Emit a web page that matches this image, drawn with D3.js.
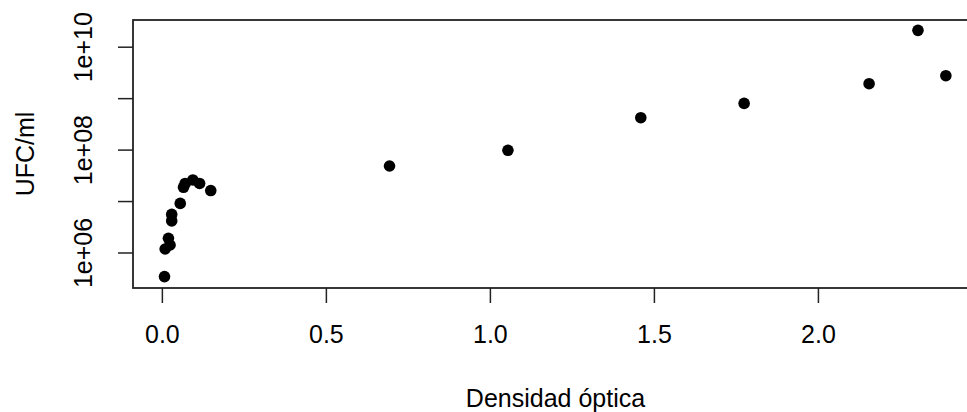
<!DOCTYPE html>
<html>
<head>
<meta charset="utf-8">
<script src="https://cdn.jsdelivr.net/npm/d3@7"></script>
<style>
  html, body { margin: 0; padding: 0; background: #fff; overflow: hidden; }
  svg { display: block; }
  text { font-family: "Liberation Sans", Arial, sans-serif; fill: #000; }
</style>
</head>
<body>
<svg id="chart" width="967" height="412"></svg>
<script>
// Data: optical density (x) vs UFC/ml (y)
const densidad = [0.008, 0.010, 0.020, 0.025, 0.030, 0.030, 0.056, 0.066, 0.071, 0.0945, 0.115, 0.149,
                  0.694, 1.055, 1.460, 1.775, 2.156, 2.305, 2.390];
const ufc = [3.4e5, 1.17e6, 1.89e6, 1.4e6, 5.5e6, 4.1e6, 9.0e6, 1.85e7, 2.2e7, 2.57e7, 2.2e7, 1.6e7,
             4.8e7, 9.7e7, 4.17e8, 7.9e8, 1.91e9, 2.08e10, 2.73e9];
const xTicks = [0.0, 0.5, 1.0, 1.5, 2.0];
const xTickLabels = ["0.0", "0.5", "1.0", "1.5", "2.0"];
const yTicks = [1e6, 1e7, 1e8, 1e9, 1e10];
const yTickLabels = ["1e+06", "", "1e+08", "", "1e+10"];
const xTitle = "Densidad óptica";
const yTitle = "UFC/ml";

const svg = d3.select("#chart");
const pLeft = 133, pRight = 978, pTop = 20, pBottom = 288;

const x = d3.scaleLinear().domain([-0.088, 2.488]).range([pLeft, pRight]);
const y = d3.scaleLog().domain([Math.pow(10, 5.31), Math.pow(10, 10.519)]).range([pBottom, pTop]);

const fontSize = 25;

// X axis
const xAxis = d3.axisBottom(x)
  .tickValues(xTicks)
  .tickFormat((d, i) => xTickLabels[i])
  .tickSizeInner(15).tickSizeOuter(0).tickPadding(10);
const gx = svg.append("g").attr("transform", `translate(0,${pBottom})`).call(xAxis);
gx.select(".domain").remove();
gx.selectAll(".tick line").attr("stroke", "#222").attr("stroke-width", 1.5);
gx.selectAll(".tick text").attr("font-size", fontSize).attr("font-family", "Liberation Sans, Arial, sans-serif")
  .attr("fill", "#000").attr("dy", null).attr("y", 55);

// Y axis
const yAxis = d3.axisLeft(y)
  .tickValues(yTicks)
  .tickFormat((d, i) => yTickLabels[i])
  .tickSizeInner(15).tickSizeOuter(0);
const gy = svg.append("g").attr("transform", `translate(${pLeft},0)`).call(yAxis);
gy.select(".domain").remove();
gy.selectAll(".tick line").attr("stroke", "#222").attr("stroke-width", 1.5);
gy.selectAll(".tick text")
  .attr("font-size", fontSize).attr("font-family", "Liberation Sans, Arial, sans-serif")
  .attr("fill", "#000")
  .attr("x", null).attr("dy", null)
  .attr("text-anchor", "middle")
  .attr("transform", "translate(-41,0) rotate(-90)");

// Box
svg.append("rect")
  .attr("x", pLeft).attr("y", pTop)
  .attr("width", pRight - pLeft).attr("height", pBottom - pTop)
  .attr("fill", "none").attr("stroke", "#222").attr("stroke-width", 1.8);

// Points
svg.append("g").selectAll("circle")
  .data(densidad.map((d, i) => [d, ufc[i]]))
  .join("circle")
  .attr("cx", d => x(d[0]))
  .attr("cy", d => y(d[1]))
  .attr("r", 5.8)
  .attr("fill", "#000");

// Titles
svg.append("text")
  .attr("x", (pLeft + pRight) / 2).attr("y", 407)
  .attr("text-anchor", "middle").attr("font-size", fontSize)
  .text(xTitle);

svg.append("text")
  .attr("transform", `translate(34,${(pTop + pBottom) / 2}) rotate(-90)`)
  .attr("text-anchor", "middle").attr("font-size", fontSize)
  .text(yTitle);
</script>
</body>
</html>
